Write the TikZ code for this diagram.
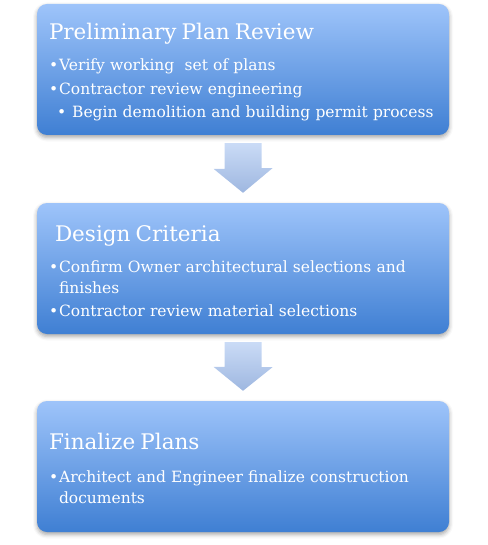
\documentclass[tikz,border=0pt]{standalone}
\usepackage{fontspec}
\setmainfont{DejaVu Serif}
\usepackage{tikz}
\usetikzlibrary{calc,shadows.blur}
\definecolor{stagetop}{RGB}{158,196,250}
\definecolor{stagebottom}{RGB}{63,127,211}
\definecolor{flowtop}{RGB}{202,219,246}
\definecolor{flowbottom}{RGB}{158,183,224}
\newcommand{\stagetitle}[1]{{\fontsize{21.5}{26}\selectfont\rule{0pt}{21pt}#1}}
\newcommand{\bul}{\hspace{2pt}\textbullet\hspace{1pt}}
\newcommand{\subbul}{\hspace{10pt}\textbullet\hspace{6pt}}

\begin{document}
\begin{tikzpicture}[x=1pt,y=-1pt,
  stage/.style={rounded corners=10pt,top color=stagetop,bottom color=stagebottom,text=white,
    minimum width=412pt,minimum height=131pt,inner xsep=10pt,align=left,text width=392pt,
    font=\fontsize{15.5}{23.5}\selectfont,
    blur shadow={shadow xshift=0pt,shadow yshift=-2.5pt,shadow blur radius=4pt,shadow opacity=35}},
  flowarrow/.style={top color=flowtop,bottom color=flowbottom}]
\useasboundingbox (0,0) rectangle (487,545);
\node[stage] (prelim) at (243,69.5) {\stagetitle{\hspace{2pt}Preliminary Plan Review}\\[8pt]
  \bul Verify working\ \ set of plans\\
  \bul Contractor review engineering\\
  \mbox{\subbul Begin demolition and building permit process}};
\node[stage] (design) at (243,268.5) {\stagetitle{\hspace{8pt}Design Criteria}\\[8pt]
  \bul Confirm Owner architectural selections and\\[-3pt]
  \hspace{12pt}finishes\\
  \bul Contractor review material selections};
\node[stage] (final) at (243,466.5) {\stagetitle{\hspace{2pt}Finalize Plans}\\[9pt]
  \bul Architect and Engineer finalize construction\\[-2pt]
  \hspace{12pt}documents};
% block arrows between the stages
\path[flowarrow] ($(prelim.south)+(-18.5,8)$) -- ++(37,0) -- ++(0,25) -- ++(11,0)
  -- ($(design.north)+(0,-10)$) -- ++(-29.5,-24) -- ++(11,0) -- cycle;
\path[flowarrow] ($(design.south)+(-18.5,8)$) -- ++(37,0) -- ++(0,25) -- ++(11,0)
  -- ($(final.north)+(0,-10)$) -- ++(-29.5,-24) -- ++(11,0) -- cycle;
\end{tikzpicture}
\end{document}
